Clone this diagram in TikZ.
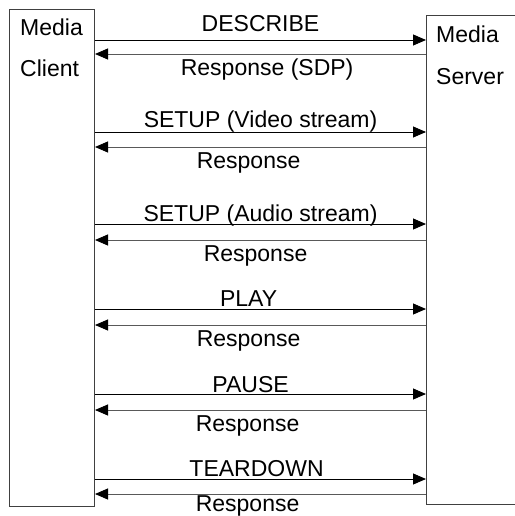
\documentclass[tikz,border=0pt]{standalone}
\usepackage{fontspec}
\setmainfont{Liberation Sans}
\usetikzlibrary{arrows.meta}

\tikzset{
	party/.style={draw=black!75, line width=1pt, anchor=north west, inner sep=0pt},
	partyname/.style={anchor=base west, inner sep=0pt},
	request/.style={draw=black, line width=0.9pt, -{Triangle[length=13pt,width=11pt]}},
	response/.style={draw=black!65, line width=0.9pt, -{Triangle[length=13pt,width=11pt,color=black]}},
	reqtxt/.style={anchor=base, inner sep=0pt, yshift=3pt},
	rsptxt/.style={anchor=base, inner sep=0pt, yshift=-21pt}
}

\begin{document}
\begin{tikzpicture}[x=1pt, y=-1pt, font=\fontsize{23}{27}\selectfont]
	\useasboundingbox (0,0) rectangle (514,516);

	\node [party, minimum width=85pt, minimum height=497pt] (client) at (9,9) {};
	\node [party, minimum width=94pt, minimum height=489pt] (server) at (426,15) {};

	\node [partyname] (clientmedia) at (20,36) {Media};
	\node [partyname] (clientname) at (20,77) {Client};
	\node [partyname] (servermedia) at (436,43) {Media};
	\node [partyname] (servername) at (436,85) {Server};

	\draw [request] (client.east |- 0,40) -- node[reqtxt, pos=0.5, yshift=5pt] {DESCRIBE} (server.west |- 0,40);
	\draw [response] (server.west |- 0,54) -- node[rsptxt, pos=0.48, yshift=-1pt] {Response (SDP)} (client.east |- 0,54);

	\draw [request] (client.east |- 0,132) -- node[reqtxt, pos=0.5, yshift=1pt] {SETUP (Video stream)} (server.west |- 0,132);
	\draw [response] (server.west |- 0,147) -- node[rsptxt, pos=0.536] {Response} (client.east |- 0,147);

	\draw [request] (client.east |- 0,224) -- node[reqtxt, pos=0.5] {SETUP (Audio stream)} (server.west |- 0,224);
	\draw [response] (server.west |- 0,240) -- node[rsptxt, pos=0.515] {Response} (client.east |- 0,240);

	\draw [request] (client.east |- 0,309) -- node[reqtxt, pos=0.464] {PLAY} (server.west |- 0,309);
	\draw [response] (server.west |- 0,325) -- node[rsptxt, pos=0.536] {Response} (client.east |- 0,325);

	\draw [request] (client.east |- 0,394) -- node[reqtxt, pos=0.47, yshift=-1pt] {PAUSE} (server.west |- 0,394);
	\draw [response] (server.west |- 0,410) -- node[rsptxt, pos=0.539] {Response} (client.east |- 0,410);

	\draw [request] (client.east |- 0,479) -- node[reqtxt, pos=0.488] {TEARDOWN} (server.west |- 0,479);
	\draw [response] (server.west |- 0,494) -- node[rsptxt, pos=0.539, yshift=4pt] {Response} (client.east |- 0,494);
\end{tikzpicture}
\end{document}
